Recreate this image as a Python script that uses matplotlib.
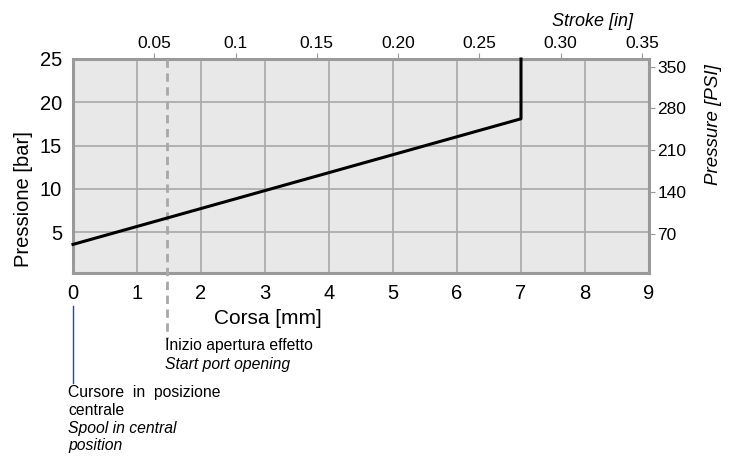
import numpy as np
import matplotlib.pyplot as plt

plt.rcParams['font.family'] = ['Liberation Sans', 'DejaVu Sans']

# characteristic curve
stroke_mm = [0.0, 7.0, 7.0]
pressure_bar = [3.6, 18.1, 25.0]

x_ticks = [0, 1, 2, 3, 4, 5, 6, 7, 8, 9]
y_ticks = [5, 10, 15, 20, 25]
in_ticks = [0.05, 0.10, 0.15, 0.20, 0.25, 0.30, 0.35]
in_labels = ["0.05", "0.1", "0.15", "0.20", "0.25", "0.30", "0.35"]
psi_ticks = [70, 140, 210, 280, 350]

port_open_mm = 1.47
BAR2PSI = 14.5038

W, H = 736, 457
fig = plt.figure(figsize=(W/100, H/100), dpi=100)
ax = fig.add_axes([73/W, 1 - 273/H, 576/W, 214/H])
ax.set_facecolor('#e8e8e8')

ax.set_xlim(0, 9)
ax.set_ylim(0.3, 25)
ax.set_xticks(x_ticks)
ax.set_yticks(y_ticks)
ax.grid(True, color='#a8a8a8', lw=1.2)
ax.set_axisbelow(True)
ax.tick_params(length=0, labelsize=14.5, pad=8)
for s in ax.spines.values():
    s.set_color('#9a9a9a')
    s.set_linewidth(2.2)

ax.plot(stroke_mm, pressure_bar, color='black', lw=2.2, zorder=4, clip_on=False)

# dashed marker: start of port opening
ax.plot([port_open_mm, port_open_mm], [25, -7.3], color='#a8a8a8', lw=2,
        ls=(0, (3, 2)), clip_on=False, zorder=3)
fig.text(165/W, 1 - 338/H, "Inizio apertura effetto", fontsize=11.3,
         va='top', ha='left')
fig.text(165/W, 1 - 357/H, "Start port opening", fontsize=11.3,
         style='italic', va='top', ha='left')

# spool in central position
ax.plot([0, 0], [-3.5, -12.4], color='#2f4a80', lw=1, clip_on=False)
fig.text(68/W, 1 - 385/H, "Cursore  in  posizione\ncentrale", fontsize=11.3,
         va='top', ha='left', linespacing=1.25)
fig.text(68/W, 1 - 421/H, "Spool in central\nposition", fontsize=11.3,
         style='italic', va='top', ha='left', linespacing=1.2)

ax.set_ylabel("Pressione [bar]", fontsize=14.5)
ax.yaxis.set_label_coords(-0.069, 0.346)
ax.set_xlabel("Corsa [mm]", fontsize=15)
ax.xaxis.set_label_coords(0.339, -0.168)

top = ax.secondary_xaxis('top', functions=(lambda v: v / 25.4, lambda v: v * 25.4))
top.set_xticks(in_ticks)
top.set_xticklabels(in_labels)
top.tick_params(length=4, color='#9a9a9a', labelsize=12.5, pad=2)
top.spines['top'].set_visible(False)
fig.text(593/W, 1 - 21/H, "Stroke [in]", fontsize=13, style='italic',
         ha='center', va='center')

right = ax.secondary_yaxis('right', functions=(lambda v: v * BAR2PSI, lambda v: v / BAR2PSI))
right.set_yticks(psi_ticks)
right.tick_params(length=4, color='#9a9a9a', labelsize=12.5, pad=2)
right.spines['right'].set_visible(False)
fig.text(713/W, 1 - 125/H, "Pressure [PSI]", fontsize=13.5, style='italic',
         rotation=90, ha='center', va='center')

fig.savefig("out.png", dpi=100)
